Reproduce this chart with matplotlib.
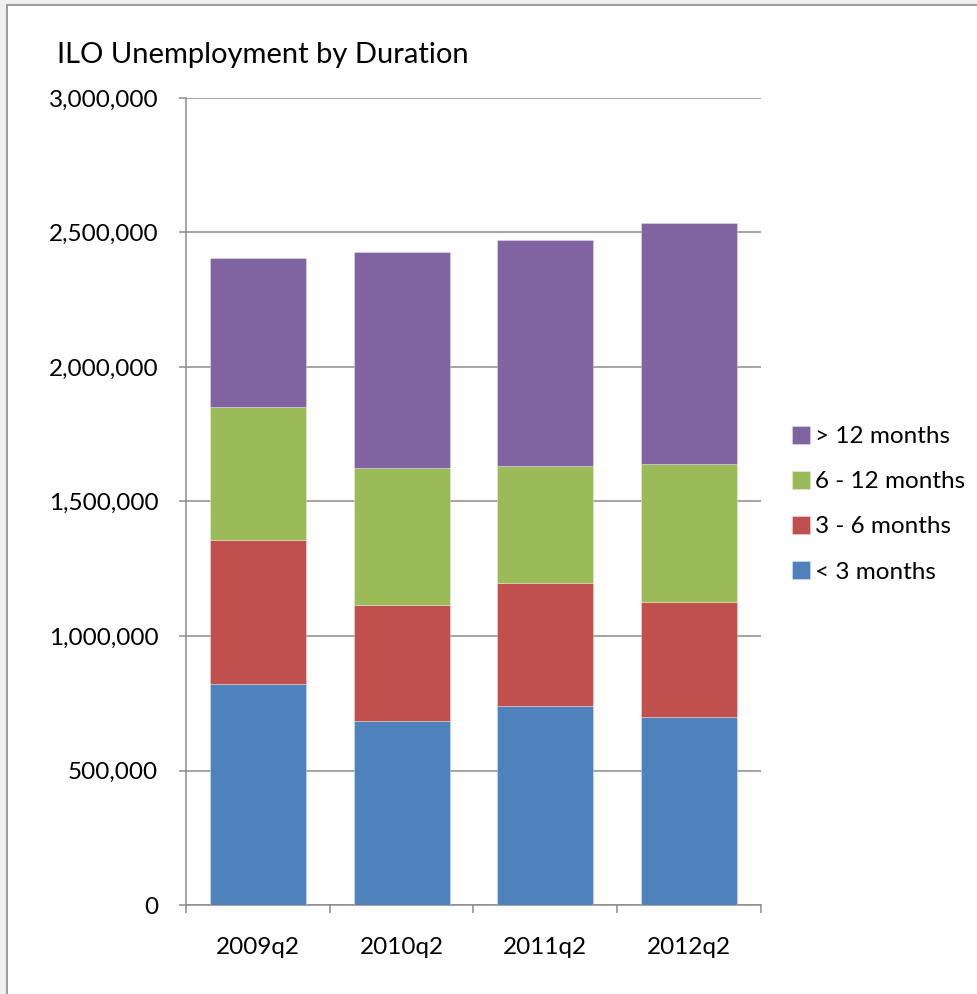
import matplotlib
matplotlib.use("Agg")
import matplotlib.pyplot as plt
from matplotlib.patches import Rectangle
from matplotlib.ticker import FuncFormatter, FixedLocator

# ILO unemployment split by duration, second quarter of each year
quarters = ["2009q2", "2010q2", "2011q2", "2012q2"]
under_3m = [822000, 684500, 741500, 698000]
from_3_to_6m = [534500, 429000, 454000, 429000]
from_6_to_12m = [493500, 512000, 437000, 511000]
over_12m = [554000, 803500, 841000, 896500]

series = [
    ("< 3 months", under_3m, "#4F81BD"),
    ("3 - 6 months", from_3_to_6m, "#C0504D"),
    ("6 - 12 months", from_6_to_12m, "#9BBB59"),
    ("> 12 months", over_12m, "#8064A2"),
]

plt.rcParams["font.family"] = ["Lato", "DejaVu Sans"]
GRID = "#8c8c8c"

fig = plt.figure(figsize=(9.78, 9.94), dpi=100, facecolor="#f0f0f0")
# white chart area with a thin grey frame
fig.patches.append(Rectangle((7 / 978, -0.01), 1.02, 1 - 5 / 994 + 0.01,
                             transform=fig.transFigure, facecolor="white",
                             edgecolor="#8a8a8a", linewidth=1.2, zorder=-10))

ax = fig.add_axes([186 / 978, 89 / 994, 575 / 978, 807 / 994])
ax.set_facecolor("none")

x = list(range(len(quarters)))
bottom = [0] * len(quarters)
handles = []
for label, vals, color in series:
    bars = ax.bar(x, vals, width=0.667, bottom=bottom, color=color,
                  edgecolor=(1, 1, 1, 0.35), linewidth=0.6, label=label, zorder=3)
    handles.append(bars)
    bottom = [b + v for b, v in zip(bottom, vals)]

ax.set_xlim(-0.5, len(quarters) - 0.5)
ax.set_ylim(0, 3000000)
ax.set_yticks(range(0, 3000001, 500000))
ax.yaxis.set_major_formatter(FuncFormatter(lambda v, _: f"{int(v):,}"))
ax.yaxis.grid(True, color=GRID, linewidth=1.1, zorder=0)

# tick marks between categories, labels centred under each bar
ax.xaxis.set_major_locator(FixedLocator([i - 0.5 for i in range(len(quarters) + 1)]))
ax.xaxis.set_minor_locator(FixedLocator(x))
ax.set_xticklabels([], minor=False)
ax.set_xticklabels(quarters, minor=True)
ax.tick_params(axis="x", which="major", length=6, width=1.1, color=GRID, direction="out")
ax.tick_params(axis="x", which="minor", length=0, pad=23, labelsize=17.5)
ax.tick_params(axis="y", length=5, width=1.1, color=GRID, pad=15, labelsize=17.5)

for side in ("top", "right"):
    ax.spines[side].set_visible(False)
for side in ("left", "bottom"):
    ax.spines[side].set_color(GRID)
    ax.spines[side].set_linewidth(1.1)

fig.text(57 / 978, 1 - 55 / 994, "ILO Unemployment by Duration",
         fontsize=21, va="center", ha="left")

fig.legend(handles[::-1], [s[0] for s in series][::-1],
           loc="upper left", bbox_to_anchor=(782 / 978, 1 - 416 / 994),
           frameon=False, fontsize=17.5, handlelength=0.75, handleheight=0.75,
           handletextpad=0.2, labelspacing=0.98, borderaxespad=0)

fig.savefig("out.png", dpi=100, facecolor=fig.get_facecolor())
